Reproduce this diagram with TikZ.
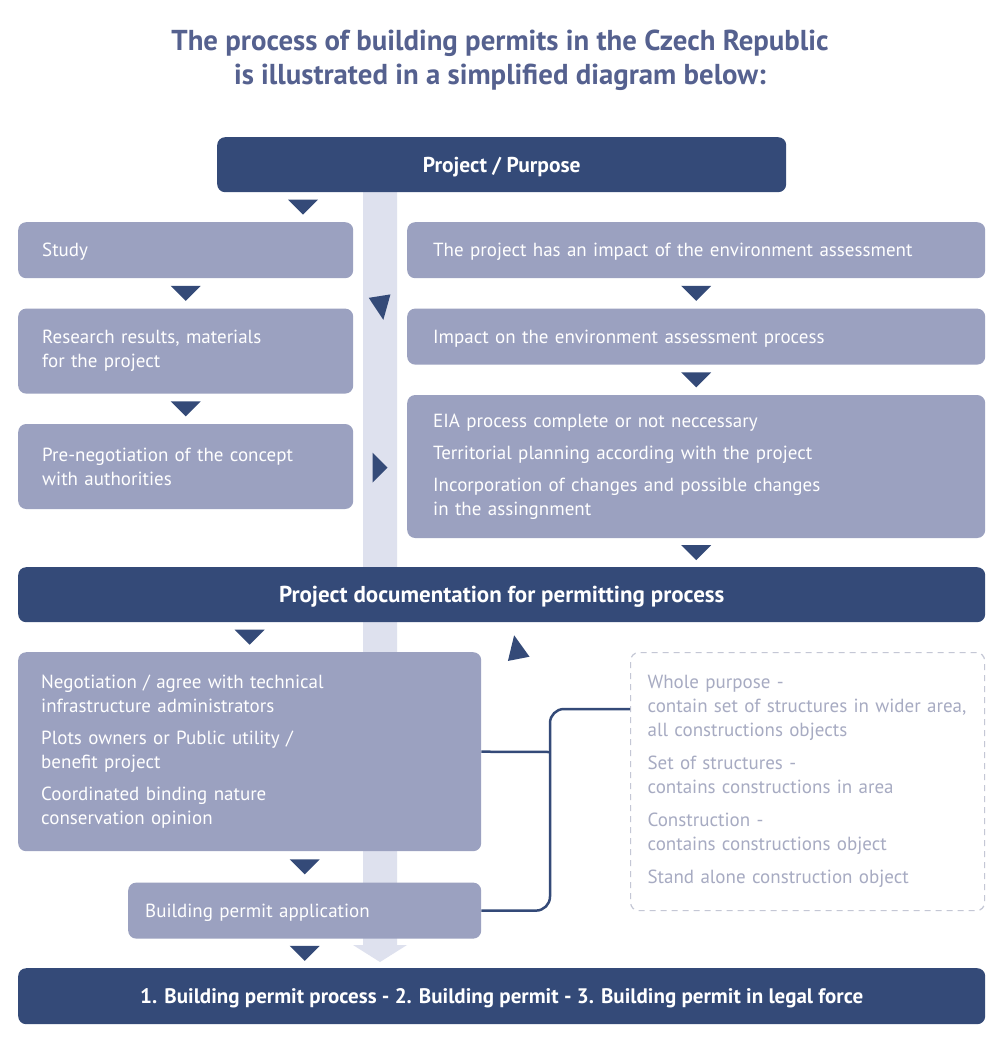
\documentclass[tikz,border=0pt]{standalone}
\usepackage{fontspec}
\setmainfont{PT Sans}
\usepackage{xcolor}
\usepackage{tikz}
\usetikzlibrary{arrows.meta, positioning, calc}

\definecolor{navy}{HTML}{344A78}
\definecolor{stagegrey}{HTML}{9BA1C0}
\definecolor{barcol}{HTML}{DEE1EE}
\definecolor{notegrey}{HTML}{A7ABC2}
\definecolor{dashgrey}{HTML}{C4C7D5}
\definecolor{titlecol}{HTML}{55618F}

\begin{document}
\begin{tikzpicture}[x=1pt, y=-1pt, node distance=30pt, every node/.style={font=\fontsize{19}{24}\selectfont}]
      % Styles
      \tikzset{
        box/.style={rectangle, rounded corners=8pt, inner ysep=0pt, text=white, align=left},
        oneline/.style={text depth=0pt},
        head/.style={box, oneline, fill=navy, align=center},
        stage/.style={box, fill=stagegrey},
        note/.style={rectangle, draw=dashgrey, line width=1.2pt, dash pattern=on 6pt off 5pt, rounded corners=8pt, text=notegrey, align=left, inner ysep=0pt},
        link/.style={navy, line width=2.5pt, rounded corners=14pt},
        down/.pic={\fill[navy] (-15,-7.5) -- (15,-7.5) -- (0,7.5) -- cycle;},
        turn/.pic={\fill[navy] (-11,-9) -- (11,-9) -- (0,15) -- cycle;}
      }
      \useasboundingbox (0,0) rectangle (1000,1042);
      \fill[white] (0,0) rectangle (1000,1042);

      % Bar behind the boxes
      \coordinate (bartop) at (380,192);
      \coordinate (bartip) at (380,962);
      \fill[barcol] ($(bartop)+(-17,0)$) -- ($(bartop)+(17,0)$) -- ($(bartip)+(17,-17)$) -- ($(bartip)+(27,-17)$)
        -- (bartip) -- ($(bartip)+(-27,-17)$) -- ($(bartip)+(-17,-17)$) -- cycle;

      % Title
      \node (title) [text=titlecol, align=center, font=\bfseries\fontsize{28.8}{34}\selectfont] at (500,60)
        {The process of building permits in the Czech Republic\\is illustrated in a simplified diagram below:};

      % Nodes
      \node (proj) [head, anchor=north west, minimum width=569pt, minimum height=55pt, font=\bfseries\fontsize{21.5}{24}\selectfont] at (217,137)
        {Project / Purpose};

      \node (study) [stage, oneline, anchor=north west, inner xsep=24pt, text width=287pt, minimum height=56pt] at (18,222) {Study};
      \node (research) [stage, below=of study, inner xsep=24pt, text width=287pt, minimum height=85pt, yshift=0pt]
        {Research results, materials\\for the project};
      \node (preneg) [stage, below=of research, inner xsep=24pt, text width=287pt, minimum height=85pt]
        {Pre-negotiation of the concept\\with authorities};

      \node (impact) [stage, oneline, anchor=north west, inner xsep=26pt, text width=526pt, minimum height=56pt] at (407,222)
        {The project has an impact of the environment assessment};
      \node (eiaproc) [stage, oneline, below=of impact, inner xsep=26pt, text width=526pt, minimum height=56pt]
        {Impact on the environment assessment process};
      \node (eia) [stage, below=of eiaproc, inner xsep=26pt, text width=526pt, minimum height=143pt]
        {EIA process complete or not neccessary\\[8pt]
         Territorial planning according with the project\\[8pt]
         Incorporation of changes and possible changes\\in the assingnment};

      \node (docu) [head, anchor=north west, minimum width=967pt, minimum height=55pt, font=\bfseries\fontsize{23}{24}\selectfont] at (18,567)
        {Project documentation for permitting process};

      \node (nego) [stage, anchor=north west, inner xsep=23pt, text width=417pt, minimum height=199pt] at (18,652)
        {Negotiation / agree with technical\\infrastructure administrators\\[8pt]
         Plots owners or Public utility /\\benefit project\\[8pt]
         Coordinated binding nature\\conservation opinion};
      \node (appl) [stage, oneline, below=31pt of nego.south east, anchor=north east, inner xsep=17pt, text width=319pt, minimum height=56pt]
        {Building permit application};

      \node (final) [head, anchor=north west, minimum width=967pt, minimum height=56pt, font=\bfseries\fontsize{21}{24}\selectfont] at (18,968)
        {1. Building permit process - 2. Building permit - 3. Building permit in legal force};

      \node (levels) [note, anchor=north west, inner xsep=17pt, text width=320pt, minimum height=258pt] at (630,652)
        {Whole purpose -\\contain set of structures in wider area,\\all constructions objects\\[9pt]
         Set of structures -\\contains constructions in area\\[9pt]
         Construction -\\contains constructions object\\[9pt]
         Stand alone construction object};

      % Arrows
      \pic at (303,207) {down};
      \pic at ($(study.south)!.5!(research.north)$) {down};
      \pic at ($(research.south)!.5!(preneg.north)$) {down};
      \pic at ($(impact.south)!.5!(eiaproc.north)$) {down};
      \pic at ($(eiaproc.south)!.5!(eia.north)$) {down};
      \pic at ($(eia.south)!.5!(eia.south |- docu.north)$) {down};
      \pic at ($(nego.north)!.5!(nego.north |- docu.south)$) {down};
      \pic at ($(appl.north)!.5!(appl.north |- nego.south)$) {down};
      \pic at ($(appl.south)!.5!(appl.south |- final.north)$) {down};
      \pic[rotate=9] at (381,305) {turn};
      \pic[rotate=90] at (380,467.5) {down};
      \pic[rotate=191] at (517,650) {turn};

      % Links
      \coordinate (fork) at (550,752);
      \coordinate (hook) at (630,709);
      \draw [link] (nego.east) -- (fork);
      \draw [link] (appl.east) -| (fork |- hook) -- (hook);
    \end{tikzpicture}
\end{document}
